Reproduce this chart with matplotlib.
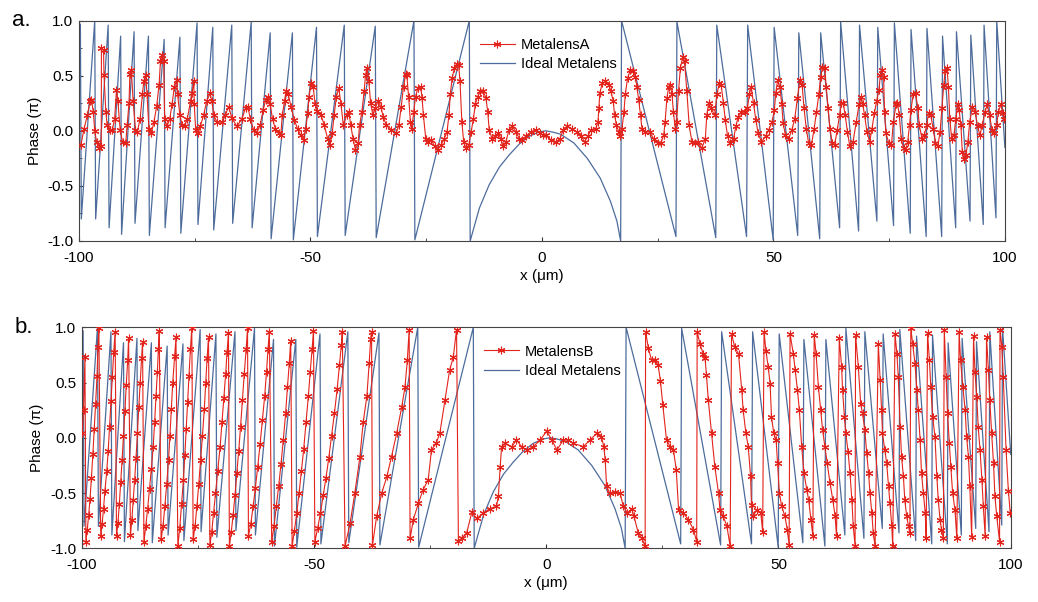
import matplotlib.pyplot as plt
from matplotlib.ticker import MultipleLocator

plt.rcParams['font.family'] = ['Liberation Sans', 'DejaVu Sans']
plt.rcParams['axes.unicode_minus'] = False

# ideal metalens phase, vertices (same curve in both panels)
ideal_x = [-100.0, -99.7, -99.5, -96.6, -96.4, -93.7, -93.5, -91.0, -90.8, -88.1, -87.9,
           -85.0, -84.8, -81.6, -81.4, -78.2, -78.0, -74.5, -74.3, -71.1, -70.9, -67.0,
           -66.8, -62.8, -62.6, -58.7, -58.5, -53.9, -53.7, -48.7, -48.5, -42.7, -42.5,
           -36.0, -35.8, -27.65, -27.45, -15.69, -15.5,
           -13.5, -11.4, -9.2, -7.1, -4.9, -2.8, -0.6, 0.8, 2.2, 4.0, 6.9, 9.8, 12.6,
           14.8, 16.2, 17.0,
           17.2, 28.95, 29.16, 37.55, 37.77, 44.2, 44.44, 49.95, 50.16, 55.25, 55.48,
           60.0, 60.21, 64.3, 64.52, 68.4, 68.6, 72.35, 72.54, 75.95, 76.13, 79.55,
           79.73, 83.0, 83.17, 86.35, 86.53, 89.37, 89.54, 92.47, 92.64, 95.33, 95.5,
           98.07, 98.24, 100.0]
ideal_y = [0.93, 0.97, -0.80, 1.00, -0.80, 0.96, -0.88, 0.86, -0.94, 0.90, -0.84,
           0.86, -0.95, 0.83, -0.88, 0.85, -0.93, 0.98, -0.85, 0.94, -0.90, 0.96,
           -0.84, 0.99, -0.88, 0.89, -0.98, 0.89, -0.99, 0.94, -0.96, 0.96, -0.95,
           0.95, -0.97, 1.00, -0.99, 1.00, -1.00,
           -0.70, -0.49, -0.33, -0.22, -0.12, -0.05, -0.01, 0.0, -0.01, -0.03, -0.11,
           -0.25, -0.43, -0.64, -0.82, -1.00,
           1.00, -0.96, 0.99, -0.97, 0.96, -0.96, 0.96, -0.99, 0.94, -0.95, 0.89,
           -0.98, 0.89, -0.88, 0.99, -0.91, 0.96, -0.82, 0.94, -0.86, 0.98, -0.93,
           0.92, -0.96, 0.93, -0.96, 0.86, -0.88, 0.90, -0.82, 0.87, -0.85, 0.96,
           -0.79, 1.00, -0.15]

# MetalensA measured phase
a_x = [-99.6, -98.9, -98.2, -97.6, -97.3, -96.9, -96.6, -96.2, -95.7, -95.2, -95.15,
       -94.7, -94.6, -94.2, -93.9, -93.3, -92.8, -92.3, -91.9, -91.6, -91.1, -90.6,
       -89.9, -89.6, -89.2, -89.0, -88.7, -88.3, -87.8, -87.4, -86.8, -86.3, -86.0,
       -85.6, -85.3, -84.9, -84.4, -83.8, -83.2, -82.7, -82.4, -82.0, -81.7, -81.5,
       -81.0, -80.4, -79.9, -79.4, -78.9, -78.7, -78.2, -77.7, -77.2, -76.6, -75.9,
       -75.6, -75.2, -75.1, -74.8, -74.3, -73.8, -73.1, -72.4, -71.7, -71.3, -70.9,
       -70.2, -69.1, -68.4, -67.7, -67.0,
       -65.9, -64.8, -64.0, -63.5, -63.0, -62.3, -61.6, -60.9, -60.2, -59.7, -59.2,
       -58.7, -58.2, -57.6, -56.9, -56.4, -56.1, -55.6, -55.3, -54.8, -54.2, -53.5,
       -52.8, -52.1, -51.5, -51.0, -50.6, -50.3, -49.9, -49.4, -49.0, -48.5, -47.7,
       -47.0, -46.3, -45.8, -45.3, -44.9, -44.4, -43.9, -43.4, -42.9, -42.2, -41.7,
       -41.3, -40.8, -40.3, -39.7, -39.4, -38.9, -38.4, -38.1, -37.8, -37.4, -37.0,
       -36.5, -36.0, -35.4, -34.8, -34.3, -33.6,
       -32.5, -31.5, -30.9, -30.4, -29.9, -29.4, -29.2, -28.8, -28.4, -28.1, -27.7,
       -27.3, -26.8, -26.2, -25.9, -25.6, -25.1, -24.6, -23.9, -23.2, -22.5, -21.8,
       -21.1, -20.5, -20.1, -19.8, -19.4, -18.9, -18.4, -18.0, -17.7, -17.3, -16.9,
       -16.4, -15.8, -15.3, -14.8, -14.4, -13.9, -13.3, -12.7, -12.1, -11.7, -11.4,
       -10.8, -10.1, -9.4, -8.9, -8.4, -7.8, -7.1, -6.4, -5.6, -4.9, -4.2, -3.5,
       -2.4, -1.3, -0.5,
       0.3, 0.8, 1.9, 3.0, 3.9, 4.6, 5.5, 6.5, 7.6, 8.5, 9.2, 9.9, 10.6, 11.6, 12.1,
       12.3, 12.5, 13.0, 13.7, 14.4, 14.9, 15.4, 15.7, 16.1, 16.6, 16.9, 17.3, 17.7,
       18.0, 18.5, 19.1, 19.7, 20.2, 20.5, 20.9, 21.3, 21.6, 22.3, 23.3, 24.1, 25.0,
       25.7, 26.3, 26.6, 27.0, 27.4, 27.7, 28.1, 28.4, 28.8, 29.1, 29.5, 29.9, 30.4,
       30.8, 31.3, 31.8, 32.4, 33.1,
       33.8, 34.5, 35.3, 35.6, 36.0, 36.5, 37.3, 37.8, 38.3, 38.7, 39.2, 39.6, 40.1,
       40.6, 41.4, 41.9, 42.4, 43.1, 43.9, 44.4, 44.8, 45.2, 45.7, 46.2, 46.7, 47.4,
       48.3, 49.0, 49.7, 50.2, 50.5, 50.9, 51.4, 51.8, 52.1, 52.6, 53.3, 54.0, 54.6,
       55.2, 55.7, 56.2, 56.6, 57.1, 57.6, 58.2, 58.8, 59.3, 59.8, 60.2, 60.6, 61.1,
       61.4, 61.8, 62.2, 62.7, 63.2, 63.8, 64.3, 64.7, 65.1, 65.5, 66.0, 66.5,
       67.2, 67.9, 68.5, 69.0, 69.3, 69.7, 70.2, 70.8, 71.3, 71.8, 72.3, 72.8, 73.1,
       73.4, 73.8, 74.0, 74.3, 74.9, 75.5, 75.9, 76.5, 76.8, 77.2, 77.6, 78.1, 78.6,
       79.0, 79.4, 79.7, 80.2, 80.7, 81.2, 81.5, 82.1, 82.6, 83.1, 83.5, 84.0, 84.5,
       85.0, 85.5, 86.0, 86.4, 86.8, 87.1, 87.5, 87.8, 88.1, 88.5, 89.0, 89.4, 89.8,
       90.1, 90.5, 90.8, 91.2, 91.6, 92.0, 92.4, 93.0, 93.6, 94.1, 94.6, 95.1, 95.7,
       96.2, 96.7, 97.2, 97.7, 98.2, 98.6, 99.1, 99.6, 99.8]
a_y = [-0.13, 0.02, 0.14, 0.27, 0.28, 0.17, 0.0, -0.10, -0.16, -0.14, 0.75,
       0.73, 0.51, 0.17, 0.05, 0.01, 0.01, 0.11, 0.37, 0.27, 0.01, -0.10,
       -0.11, 0.05, 0.25, 0.52, 0.55, 0.27, 0.01, -0.01, 0.11, 0.33, 0.45,
       0.51, 0.33, 0.02, -0.02, 0.08, 0.23, 0.42, 0.63, 0.69, 0.63, 0.11,
       0.04, 0.11, 0.24, 0.40, 0.46, 0.33, 0.14, 0.05, 0.04, 0.11, 0.27,
       0.34, 0.45, 0.24, 0.01, -0.02, 0.04, 0.14, 0.27, 0.34, 0.27, 0.14,
       0.08, 0.08, 0.14, 0.22, 0.12,
       0.04, 0.11, 0.21, 0.22, 0.11, 0.01, -0.02, 0.05, 0.19, 0.28, 0.31,
       0.24, 0.11, 0.02, -0.02, -0.04, 0.14, 0.27, 0.36, 0.33, 0.22, 0.10,
       0.02, -0.04, -0.08, 0.02, 0.16, 0.31, 0.43, 0.40, 0.24, 0.18, 0.14,
       0.05, -0.07, -0.13, -0.02, 0.14, 0.31, 0.39, 0.24, 0.05, 0.14, 0.17,
       0.05, -0.07, -0.17, -0.11, 0.05, 0.17, 0.36, 0.51, 0.57, 0.45, 0.25,
       0.14, 0.21, 0.27, 0.22, 0.13, 0.05,
       0.01, -0.02, 0.05, 0.22, 0.40, 0.52, 0.51, 0.31, 0.08, 0.02, 0.17,
       0.31, 0.39, 0.40, 0.30, 0.14, -0.07, -0.10, -0.08, -0.14, -0.17, -0.13,
       -0.07, -0.01, 0.14, 0.33, 0.48, 0.57, 0.61, 0.60, 0.45, 0.08, -0.10,
       -0.16, -0.13, -0.01, 0.11, 0.24, 0.31, 0.36, 0.36, 0.30, 0.17, 0.01,
       -0.07, -0.05, -0.02, -0.07, -0.14, -0.10, 0.01, 0.04, -0.01, -0.07, -0.08, -0.05,
       -0.01, 0.01, -0.02,
       -0.04, -0.04, -0.08, -0.10, -0.07, 0.01, 0.04, 0.02, -0.01, -0.05, -0.10, -0.05, 0.01, 0.02, 0.08,
       0.21, 0.34, 0.43, 0.45, 0.42, 0.36, 0.27, 0.14, 0.05, -0.01, -0.05, 0.02, 0.17,
       0.33, 0.48, 0.55, 0.54, 0.49, 0.40, 0.28, 0.14, 0.02, -0.01, -0.01, -0.07, -0.11,
       -0.11, -0.04, 0.08, 0.30, 0.40, 0.42, 0.33, 0.17, 0.02, 0.08, 0.36, 0.57, 0.67,
       0.63, 0.36, 0.05, -0.10, -0.11,
       -0.10, -0.16, -0.07, 0.14, 0.25, 0.21, 0.14, 0.33, 0.43, 0.42, 0.25, 0.10, -0.05,
       -0.11, -0.07, 0.04, 0.13, 0.17, 0.17, 0.21, 0.33, 0.40, 0.25, 0.10, -0.02, -0.10,
       -0.05, 0.01, 0.08, 0.19, 0.34, 0.46, 0.40, 0.24, 0.07, -0.04, -0.07, 0.01, 0.11,
       0.30, 0.46, 0.42, 0.21, 0.02, -0.11, -0.13, 0.02, 0.17, 0.33, 0.49, 0.58, 0.57,
       0.40, 0.21, 0.02, -0.11, -0.13, 0.01, 0.14, 0.25, 0.25, 0.14, -0.01, -0.14,
       -0.10, 0.08, 0.24, 0.31, 0.24, 0.14, -0.01, -0.10, 0.02, 0.16, 0.27, 0.37, 0.51,
       0.55, 0.49, 0.17, -0.02, -0.11, -0.13, 0.08, 0.24, 0.25, 0.14, -0.07, -0.16, -0.17,
       -0.10, 0.05, 0.19, 0.33, 0.34, 0.21, 0.05, -0.07, -0.04, 0.05, 0.16, 0.14, 0.02,
       -0.11, -0.14, -0.01, 0.21, 0.42, 0.54, 0.57, 0.40, 0.11, -0.07, -0.04, 0.11, 0.24,
       0.19, 0.05, -0.19, -0.26, -0.22, -0.10, 0.08, 0.22, 0.17, 0.04, -0.04, 0.05, 0.17,
       0.24, 0.14, 0.01, -0.02, 0.05, 0.17, 0.24, 0.16, 0.11]

# MetalensB measured phase
b_x = [-99.9, -99.6, -99.3,
       -99.1, -98.8, -98.5, -98.2, -97.9, -97.6, -97.3, -97.0, -96.7, -96.5, -96.3,
       -95.9, -95.6, -95.3, -95.0, -94.6, -94.3, -94.0, -93.7, -93.4, -93.1, -92.8,
       -92.5, -92.2, -91.9, -91.6, -91.3, -91.0, -90.7, -90.4, -90.1, -89.9,
       -89.5, -89.2, -88.9, -88.6, -88.3, -88.0, -87.7, -87.4, -87.1, -86.9,
       -86.6, -86.2, -85.8, -85.4, -85.0, -84.6, -84.3, -84.0, -83.7, -83.5, -83.3,
       -82.9, -82.5, -82.1, -81.7, -81.3, -81.0, -80.7, -80.4, -80.0, -79.7,
       -79.3, -78.9, -78.5, -78.1, -77.8, -77.5, -77.2, -76.9, -76.6, -76.3,
       -76.0, -75.6, -75.2, -74.8, -74.4, -74.0, -73.6, -73.3, -73.0, -72.7,
       -72.4, -72.0, -71.6, -71.2, -70.7, -70.2, -69.8, -69.4, -69.0, -68.7, -68.4,
       -68.2, -67.8, -67.4, -67.0, -66.6, -66.2, -65.8, -65.4, -65.0, -64.6, -64.3,
       -64.1, -63.6, -63.1, -62.6, -62.1, -61.6, -61.1, -60.6, -60.2, -59.9, -59.6,
       -59.1, -58.6, -58.1, -57.6, -57.1, -56.6, -56.1, -55.7, -55.3, -55.0,
       -54.7, -54.2, -53.7, -53.2, -52.7, -52.2, -51.7, -51.2, -50.8, -50.4, -50.1,
       -49.8, -49.2, -48.6, -48.0, -47.4, -46.8, -46.2, -45.6, -45.0, -44.5, -44.1, -43.9,
       -43.3, -42.2, -41.2, -40.1, -39.4, -38.6, -38.1, -37.8, -37.6,
       -37.4, -36.5, -35.4, -34.3, -33.3, -32.2, -31.1, -30.4, -29.9, -29.5,
       -29.3, -28.6, -27.5, -26.5, -25.4, -24.7, -23.7, -22.9, -21.8, -20.8, -20.0, -19.3,
       -18.9, -18.2, -17.1, -16.0, -15.0, -13.5, -12.1, -10.7, -10.3, -9.9, -9.6,
       -8.9, -7.4, -6.4, -5.3, -4.2, -2.8, -1.3, 0.1, 1.2, 2.3, 3.7, 4.8, 5.8, 8.0,
       9.4, 10.9, 11.9, 12.4, 12.7, 13.0, 13.7, 14.8, 15.9, 16.6, 17.5, 18.4, 18.9,
       19.8, 20.6, 21.3,
       21.4, 22.0, 22.7, 23.4, 24.1, 24.6, 25.1, 25.9, 26.7, 27.4, 28.0, 28.5, 29.5,
       30.6, 31.7, 32.4,
       32.5, 33.1, 33.8, 34.2, 34.5, 34.9, 35.6, 36.3, 37.1, 37.4, 38.1, 38.9, 39.6,
       39.9, 40.6, 41.4, 42.1, 42.4, 43.0, 43.5, 44.0, 44.2, 44.6, 45.3, 46.2, 46.6,
       46.9, 47.3, 47.8, 48.2, 48.5, 49.0, 49.5, 49.8, 50.2, 50.7, 51.4, 51.9, 52.3,
       52.5, 53.2, 53.6, 54.1, 54.5, 55.0, 55.5, 56.1, 56.5, 57.0, 57.4,
       57.7, 58.1, 58.6, 59.1, 59.5, 60.0, 60.5, 61.1, 61.7, 62.2, 62.5,
       63.1, 63.6, 63.8, 64.2, 64.5, 65.0, 65.4, 65.8, 66.1, 66.5,
       66.6, 67.2, 67.7, 68.1, 68.6, 69.0, 69.4, 69.7, 70.1, 70.4, 70.8,
       71.5, 71.9, 72.2, 72.4, 72.9, 73.3, 73.7, 74.0, 74.4, 74.6,
       75.1, 75.5, 75.8, 76.2, 76.5, 76.9, 77.2, 77.6, 78.0, 78.3,
       78.5, 78.9, 79.4, 79.8, 80.1, 80.5, 80.8, 81.2, 81.6, 81.8,
       82.1, 82.5, 82.8, 83.2, 83.7, 84.1, 84.4, 84.8, 85.1, 85.5,
       85.7, 86.1, 86.4, 86.8, 87.1, 87.5, 88.0, 88.4,
       88.9, 89.2, 89.7, 90.2, 90.5, 90.9, 91.2, 91.6,
       92.0, 92.3, 92.7, 93.0, 93.4, 93.8, 94.1, 94.5,
       94.8, 95.2, 95.5, 95.9, 96.3, 96.6, 97.0, 97.6,
       97.7, 98.1, 98.4, 99.0, 99.5, 99.9]
b_y = [0.04, 0.25, 0.73,
       -0.94, -0.83, -0.70, -0.55, -0.36, -0.15, 0.08, 0.31, 0.56, 0.82, 0.99,
       -0.89, -0.78, -0.64, -0.48, -0.30, -0.12, 0.10, 0.33, 0.55, 0.78, 0.96,
       -0.89, -0.77, -0.60, -0.40, -0.20, 0.02, 0.24, 0.48, 0.70, 0.90,
       -0.88, -0.74, -0.56, -0.38, -0.18, 0.04, 0.28, 0.50, 0.72, 0.87,
       -0.94, -0.80, -0.64, -0.46, -0.28, -0.08, 0.14, 0.38, 0.60, 0.80, 0.97,
       -0.92, -0.80, -0.62, -0.42, -0.20, 0.02, 0.26, 0.50, 0.74, 0.91,
       -0.98, -0.82, -0.60, -0.38, -0.16, 0.08, 0.32, 0.56, 0.80, 0.99,
       -0.92, -0.80, -0.62, -0.42, -0.20, 0.02, 0.26, 0.50, 0.72, 0.91,
       -0.97, -0.85, -0.68, -0.50, -0.30, -0.08, 0.14, 0.36, 0.58, 0.78, 0.95,
       -0.98, -0.85, -0.70, -0.52, -0.32, -0.12, 0.10, 0.34, 0.58, 0.80, 0.99,
       -0.89, -0.78, -0.62, -0.45, -0.26, -0.06, 0.16, 0.38, 0.60, 0.80, 0.96,
       -0.94, -0.80, -0.62, -0.44, -0.24, -0.02, 0.22, 0.46, 0.68, 0.88,
       -0.98, -0.84, -0.68, -0.50, -0.30, -0.10, 0.14, 0.38, 0.60, 0.80, 0.97,
       -0.94, -0.82, -0.68, -0.52, -0.36, -0.18, 0.02, 0.22, 0.44, 0.66, 0.84, 0.96,
       -0.98, -0.77, -0.50, -0.17, 0.14, 0.38, 0.68, 0.89, 0.96,
       -0.97, -0.71, -0.50, -0.35, -0.17, 0.04, 0.28, 0.46, 0.70, 0.98,
       -0.91, -0.74, -0.59, -0.47, -0.38, -0.11, -0.05, 0.04, 0.34, 0.61, 0.73, 0.98,
       -0.93, -0.91, -0.86, -0.67, -0.73, -0.68, -0.64, -0.62, -0.53, -0.26, -0.08,
       -0.05, -0.08, -0.02, -0.08, -0.11, -0.08, -0.02, 0.06, -0.02, -0.11, -0.02, -0.02, -0.05, -0.08,
       -0.02, 0.04, 0.01, -0.08, -0.20, -0.44, -0.50, -0.49, -0.50, -0.62, -0.68, -0.64, -0.71,
       -0.86, -0.91, -0.98,
       0.96, 0.81, 0.70, 0.70, 0.66, 0.51, 0.30, -0.02, -0.08, -0.11, -0.29, -0.65, -0.68,
       -0.74, -0.83, -0.94,
       0.96, 0.85, 0.76, 0.72, 0.57, 0.34, 0.04, -0.26, -0.50, -0.65, -0.71, -0.80, -0.98,
       0.94, 0.82, 0.76, 0.43, 0.25, 0.04, -0.08, -0.35, -0.61, -0.71, -0.65, -0.68, -0.85,
       0.96, 0.79, 0.64, 0.49, 0.19, 0.04, -0.02, -0.23, -0.50, -0.62, -0.71, -0.83, -0.97,
       0.94, 0.76, 0.61, 0.43, 0.25, -0.08, -0.32, -0.47, -0.56, -0.74, -0.89,
       0.93, 0.76, 0.46, 0.25, 0.07, -0.08, -0.23, -0.41, -0.56, -0.71, -0.89,
       0.90, 0.64, 0.43, 0.19, 0.04, -0.13, -0.32, -0.56, -0.80, -0.98,
       0.93, 0.64, 0.31, 0.22, 0.07, -0.14, -0.32, -0.50, -0.68, -0.86, -0.98,
       0.85, 0.52, 0.25, 0.04, -0.11, -0.23, -0.44, -0.59, -0.80, -0.98,
       0.94, 0.76, 0.55, 0.10, -0.17, -0.35, -0.56, -0.71, -0.80, -0.86,
       0.99, 0.85, 0.67, 0.43, 0.25, -0.02, -0.32, -0.50, -0.68, -0.91,
       0.95, 0.70, 0.46, 0.19, 0.01, -0.35, -0.56, -0.74, -0.83, -0.91,
       0.98, 0.55, 0.22, -0.05, -0.26, -0.50, -0.65, -0.91,
       0.96, 0.70, 0.46, 0.25, 0.01, -0.17, -0.44, -0.90,
       0.92, 0.60, 0.37, 0.10, -0.11, -0.38, -0.62, -0.89,
       0.91, 0.61, 0.34, 0.04, -0.23, -0.53, -0.71, -0.94,
       0.98, 0.82, 0.55, -0.11, -0.48, -0.68]

red = '#e3241c'
blue = '#4d6c9c'
x_ticks = [-100, -50, 0, 50, 100]
y_ticks = [-1.0, -0.5, 0.0, 0.5, 1.0]

fig = plt.figure(figsize=(10.38, 6.02), dpi=100)
ax_a = fig.add_axes([0.0761, 0.5997, 0.892, 0.3659])
ax_b = fig.add_axes([0.0787, 0.0892, 0.895, 0.3671])

panels = [(ax_a, a_x, a_y, 'MetalensA', 'a.', 0.955),
          (ax_b, b_x, b_y, 'MetalensB', 'b.', 0.955)]
for ax, rx, ry, name, tag, ly in panels:
    ax.plot(rx, ry, color=red, lw=0.8, marker=(6, 2, 0), ms=5.5, mew=0.8,
            label=name, zorder=3)
    ax.plot(ideal_x, ideal_y, color=blue, lw=0.9, label='Ideal Metalens', zorder=2)
    ax.set_xlim(-100, 100)
    ax.set_ylim(-1.0, 1.0)
    ax.set_xticks(x_ticks)
    ax.set_yticks(y_ticks)
    ax.set_yticklabels(['%.1f' % v for v in y_ticks])
    ax.xaxis.set_minor_locator(MultipleLocator(25))
    ax.yaxis.set_minor_locator(MultipleLocator(0.25))
    ax.tick_params(which='both', direction='in', labelsize=11, color='#333333')
    ax.tick_params(which='major', length=3)
    ax.tick_params(which='minor', length=2)
    ax.tick_params(axis='x', pad=7)
    ax.tick_params(axis='y', pad=4)
    for s in ax.spines.values():
        s.set_color('#444444')
        s.set_linewidth(0.8)
    ax.set_xlabel('x (\u03bcm)', fontsize=11, labelpad=3)
    ax.set_ylabel('Phase (\u03c0)', fontsize=11, labelpad=4)
    ax.legend(loc='upper left', bbox_to_anchor=(0.425, ly), frameon=False,
              fontsize=10.5, handlelength=2.4, handletextpad=0.4, numpoints=1,
              borderpad=0, labelspacing=0.35)
    ax.text(-0.072, 1.0, tag, transform=ax.transAxes, fontsize=16,
            ha='left', va='center')

fig.savefig('out.png', dpi=100)
